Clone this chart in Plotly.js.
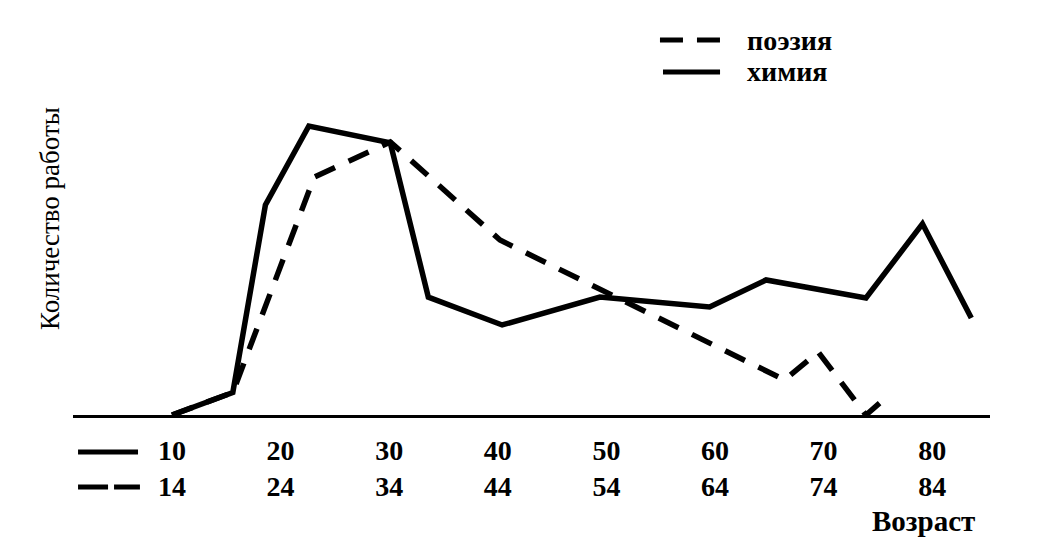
<!DOCTYPE html>
<html>
<head>
<meta charset="utf-8">
<script src="https://cdn.plot.ly/plotly-3.0.1.min.js"></script>
<style>html,body{margin:0;padding:0;background:#fff;}#chart{width:1041px;height:550px;}</style>
</head>
<body>
<div id="chart"></div>
<script>
// Age groups (x axis)
const tickValues = [10, 20, 30, 40, 50, 60, 70, 80];
const tickLower = ["10", "20", "30", "40", "50", "60", "70", "80"];
const tickUpper = ["14", "24", "34", "44", "54", "64", "74", "84"];

// химия (solid)
const chemAge   = [10, 15.6, 18.6, 22.6, 30.1, 33.6, 40.4, 49.4, 59.5, 64.7, 73.9, 79.1, 83.6];
const chemValue = [0, 7.5, 70, 96.3, 90.7, 39.3, 30, 39.3, 36, 45, 39, 63.7, 32.3];

// поэзия (dashed)
const poetAge   = [10, 15.6, 23.1, 30.1, 40.2, 66.4, 69.5, 73.9, 75.8];
const poetValue = [0, 7.5, 79.3, 91, 58.3, 11.7, 21, 0, 6];

const seriesNames = ["поэзия", "химия"];
const yTitle = "Количество работы";
const xTitle = "Возраст";

const serif = "Liberation Serif, Times New Roman, serif";

const traces = [
  {x: chemAge, y: chemValue, mode: "lines", name: seriesNames[1],
   line: {color: "#000", width: 5.5, dash: "solid"}, cliponaxis: false, showlegend: false},
  {x: poetAge, y: poetValue, mode: "lines", name: seriesNames[0],
   line: {color: "#000", width: 5.5, dash: "22px,15px"}, cliponaxis: false, showlegend: false}
];

const layout = {
  width: 1041, height: 550,
  margin: {l: 73, r: 51, t: 15, b: 135},
  paper_bgcolor: "#fff", plot_bgcolor: "#fff",
  showlegend: false,
  font: {family: serif, color: "#000"},
  xaxis: {
    range: [0.884, 85.32], showgrid: false, zeroline: false,
    showline: true, linecolor: "#000", linewidth: 3,
    ticks: "", tickvals: tickValues,
    ticktext: tickLower.map((t, i) => t + "<br>" + tickUpper[i]),
    tickfont: {family: serif, size: 28, color: "#000", weight: "bold"},
    ticklabelstandoff: 8
  },
  yaxis: {
    range: [0, 133.3], showgrid: false, zeroline: false, showline: false,
    showticklabels: false, ticks: ""
  },
  shapes: [
    // top legend keys
    {type: "line", xref: "paper", yref: "paper", x0: 0.6401, x1: 0.7056, y0: 0.9375, y1: 0.9375,
     line: {color: "#000", width: 5, dash: "23px,14px"}},
    {type: "line", xref: "paper", yref: "paper", x0: 0.6434, x1: 0.7056, y0: 0.8575, y1: 0.8575,
     line: {color: "#000", width: 5}},
    // bottom row keys
    {type: "line", xref: "paper", yref: "paper", x0: 0.0055, x1: 0.0709, y0: -0.0925, y1: -0.0925,
     line: {color: "#000", width: 5}},
    {type: "line", xref: "paper", yref: "paper", x0: 0.0055, x1: 0.0730, y0: -0.18, y1: -0.18,
     line: {color: "#000", width: 5, dash: "30px,6px"}}
  ],
  annotations: [
    {text: seriesNames[0], xref: "paper", yref: "paper", x: 0.7328, y: 0.9375,
     xanchor: "left", yanchor: "middle", showarrow: false,
     font: {family: serif, size: 28, color: "#000", weight: "bold"}},
    {text: seriesNames[1], xref: "paper", yref: "paper", x: 0.7328, y: 0.8575,
     xanchor: "left", yanchor: "middle", showarrow: false,
     font: {family: serif, size: 28, color: "#000", weight: "bold"}},
    {text: xTitle, xref: "paper", yref: "paper", x: 0.928, y: -0.265,
     xanchor: "center", yanchor: "middle", showarrow: false,
     font: {family: serif, size: 29, color: "#000", weight: "bold"}},
    {text: yTitle, xref: "paper", yref: "paper", x: -0.0251, y: 0.4925,
     xanchor: "center", yanchor: "middle", textangle: -90, showarrow: false,
     font: {family: serif, size: 27, color: "#000"}}
  ]
};

Plotly.newPlot("chart", traces, layout, {staticPlot: true, displayModeBar: false});
</script>
</body>
</html>
